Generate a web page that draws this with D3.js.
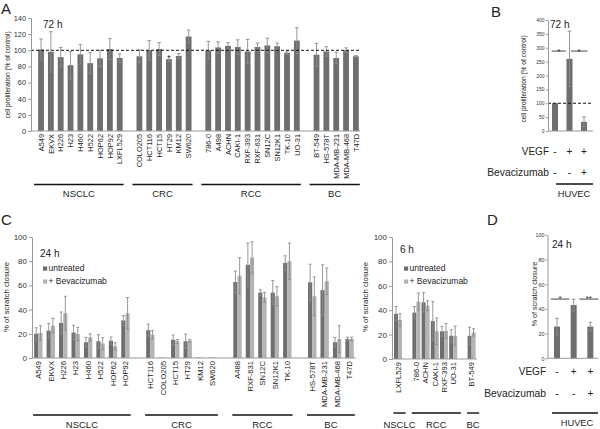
<!DOCTYPE html>
<html>
<head>
<meta charset="utf-8">
<script src="https://cdn.jsdelivr.net/npm/d3@7/dist/d3.min.js"></script>
<style>
body { margin: 0; background: #fff; }
text { font-family: "Liberation Sans", Arial, sans-serif; fill: #222; }
</style>
</head>
<body>
<div class="fig"></div>
<script>
var width = 600, height = 429;

// ---- panel A : proliferation, 72 h
var aGroups = ["NSCLC", "CRC", "RCC", "BC"];
var aLines = [
  ["A549", "EKVX", "H226", "H23", "H460", "H522", "HOP62", "HOP92", "LXFL529"],
  ["COLO205", "HCT116", "HCT15", "HT29", "KM12", "SW620"],
  ["786-0", "A498", "ACHN", "CAKI-1", "RXF-393", "RXF-631", "SN12C", "SN12K1", "TK-10", "UO-31"],
  ["BT-549", "HS-578T", "MDA-MB-231", "MDA-MB-468", "T47D"]
];
var aValues = [101, 98, 91.5, 81.5, 95, 84, 90, 101.5, 90.5,
               92.5, 100, 101.5, 89, 93, 117,
               100, 103.5, 105.5, 104, 98.5, 104, 106, 105, 97, 112,
               94.5, 98.5, 90.5, 100, 92.5];
var aErrors = [13, 25, 12, 17, 12, 13, 10, 13, 5,
               8, 12, 8, 3, 3, 8,
               11, 7, 4, 9, 15, 5, 9, 4, 2, 16,
               14, 6, 7, 3, 1];
var aSignif = ["HT29"];
var aTicks = [0, 20, 40, 60, 80, 100, 120, 140];

// ---- panel B : HUVEC proliferation, 72 h
var bVegf = ["-", "+", "+"];
var bBeva = ["-", "-", "+"];
var bValues = [100, 260, 33];
var bErrors = [0, 100, 18];
var bSig = [{from: 0, to: 1, label: "*", level: 288}, {from: 1, to: 2, label: "*", level: 288}];
var bTicks = [0, 50, 100, 150, 200, 250, 300, 350, 400];

// ---- panel C : scratch closure, 24 h
var cGroups = ["NSCLC", "CRC", "RCC", "BC"];
var cLines = [
  ["A549", "EKVX", "H226", "H23", "H460", "H522", "HOP62", "HOP92"],
  ["HCT116", "COLO205", "HCT15", "HT29", "KM12", "SW620"],
  ["A488", "RXF-631", "SN12C", "SN12K1", "TK-10"],
  ["HS-578T", "MDA-MB-231", "MDA-MB-468", "T47D"]
];
var cUntreated    = [20, 22.6, 29, 21, 13, 13.8, 14.3, 31,  23, 0.3, 15, 13.8, 0.3, 0.3,  62.8, 77, 54, 54, 78.5,  62.5, 56, 13, 15.7];
var cUntreatedErr = [5, 6, 9, 6, 4, 5.5, 3, 4,             5, 0, 4, 6, 0, 0,               9, 18, 2.5, 10, 6,      15, 21, 4, 1.5];
var cBeva         = [20.7, 26.7, 37, 19.8, 17, 11.8, 9.6, 37,  19.3, 0.3, 13.8, 14.3, 0.3, 0.3,  68, 83, 50, 51, 80,  51, 63.4, 15.7, 15.7];
var cBevaErr      = [6, 6, 14, 5.5, 3, 5, 3, 13,               3.5, 0, 1.5, 1, 0, 0,              15, 13, 4, 8, 15,   16, 11, 11, 1.5];
var cTicks = [0, 20, 40, 60, 80, 100];

// ---- panel C, right : scratch closure, 6 h
var c6Groups = ["NSCLC", "RCC", "BC"];
var c6Lines = [["LXFL529"], ["786-0", "ACHN", "CAKI-1", "RXF-393", "UO-31"], ["BT-549"]];
var c6Untreated    = [37, 38, 46.4, 31, 22.7, 19, 19];
var c6UntreatedErr = [6, 5, 8, 16, 4, 5, 7];
var c6Beva         = [32, 47, 43.7, 22.7, 23, 19, 21.8];
var c6BevaErr      = [5, 7, 4, 11, 6, 8, 3];

// ---- panel D : HUVEC scratch closure, 24 h
var dVegf = ["-", "+", "+"];
var dBeva = ["-", "-", "+"];
var dValues = [25.7, 43.2, 25.7];
var dErrors = [6.7, 4.6, 3.5];
var dSig = [{from: 0, to: 1, label: "*", level: 48}, {from: 1, to: 2, label: "**", level: 48}];

var legendNames = ["untreated", "+ Bevacizumab"];

var barDark = "#6e6e6e", barLight = "#b4b4b4", errCol = "#8c8c8c", axisCol = "#999";

var svg = d3.select(".fig").append("svg")
  .attr("width", width)
  .attr("height", height);

svg.append("rect").attr("width", "100%").attr("height", "100%").attr("fill", "#fff");

// band scale with one empty slot between groups
function slotScale(lines, x0, x1) {
  var keys = [];
  lines.forEach(function (ls, i) {
    if (i > 0) keys.push("_gap" + i);
    ls.forEach(function (d) { keys.push(d); });
  });
  return d3.scaleBand().domain(keys).range([x0, x1]);
}

function yAxis(g, y, ticks, x, fs, size, pad) {
  var ax = g.append("g")
    .attr("transform", "translate(" + x + ",0)")
    .call(d3.axisLeft(y).tickValues(ticks).tickSize(size || 3).tickSizeOuter(0).tickPadding(pad || 2));
  ax.select(".domain").attr("stroke", axisCol);
  ax.selectAll(".tick line").attr("stroke", axisCol);
  ax.selectAll(".tick text").attr("font-size", fs).style("fill", "#333")
    .attr("font-family", "'Liberation Sans', Arial, sans-serif");
}

function baseline(g, y, x0, x1) {
  g.append("line").attr("x1", x0).attr("x2", x1)
    .attr("y1", y(0)).attr("y2", y(0))
    .attr("stroke", axisCol);
}

function yLabel(g, text, x, cy, fs) {
  g.append("text")
    .attr("transform", "translate(" + x + "," + cy + ") rotate(-90)")
    .attr("text-anchor", "middle")
    .attr("font-size", fs)
    .text(text);
}

function plainText(g, text, x, y, fs, anchor) {
  g.append("text").attr("x", x).attr("y", y)
    .attr("font-size", fs)
    .attr("text-anchor", anchor || "start")
    .text(text);
}

function rotLabels(g, names, xs, cx, y0, fs) {
  g.selectAll(null).data(names).enter().append("text")
    .attr("transform", function (d) { return "translate(" + (cx(d) + fs * 0.36) + "," + (y0 + 3) + ") rotate(-90)"; })
    .attr("text-anchor", "end")
    .attr("font-size", fs)
    .text(function (d) { return d; });
}

function errBars(g, data, cx, y, cap) {
  var e = g.selectAll(null).data(data.filter(function (d) { return d.err > 0; })).enter().append("g")
    .attr("stroke", errCol).attr("stroke-width", 0.9);
  e.append("line")
    .attr("x1", cx).attr("x2", cx)
    .attr("y1", function (d) { return y(d.v + d.err); })
    .attr("y2", function (d) { return y(Math.max(0, d.v - d.err)); });
  e.append("line")
    .attr("x1", function (d) { return cx(d) - cap; }).attr("x2", function (d) { return cx(d) + cap; })
    .attr("y1", function (d) { return y(d.v + d.err); })
    .attr("y2", function (d) { return y(d.v + d.err); });
  e.append("line")
    .attr("x1", function (d) { return cx(d) - cap; }).attr("x2", function (d) { return cx(d) + cap; })
    .attr("y1", function (d) { return y(Math.max(0, d.v - d.err)); })
    .attr("y2", function (d) { return y(Math.max(0, d.v - d.err)); });
}

function groupLines(g, groups, lines, xs, lineY, textY, pad0, pad1, fs) {
  groups.forEach(function (name, i) {
    var ls = lines[i];
    var a = xs(ls[0]) + pad0, b = xs(ls[ls.length - 1]) + xs.bandwidth() + pad1;
    g.append("line").attr("x1", a).attr("x2", b)
      .attr("y1", lineY).attr("y2", lineY)
      .attr("stroke", "#111").attr("stroke-width", 1.4);
    plainText(g, name, (a + b) / 2, textY, fs, "middle");
  });
}

function flat(lines) { return [].concat.apply([], lines); }

// ================= A =================
(function () {
  var g = svg.append("g");
  var names = flat(aLines);
  var xs = slotScale(aLines, 36.1, 360.8);
  var y = d3.scaleLinear().domain([0, 140]).range([131, 18]);
  var cx = function (d) { return xs(d.name || d) + xs.bandwidth() / 2; };
  var data = names.map(function (n, i) { return {name: n, v: aValues[i], err: aErrors[i]}; });

  g.selectAll(null).data(data).enter().append("rect")
    .attr("x", function (d) { return cx(d) - 2.9; })
    .attr("width", 5.8)
    .attr("y", function (d) { return y(d.v); })
    .attr("height", function (d) { return y(0) - y(d.v); })
    .attr("fill", barDark);
  errBars(g, data, cx, y, 1.8);

  g.append("line").attr("x1", 31).attr("x2", 360)
    .attr("y1", y(100)).attr("y2", y(100))
    .attr("stroke", "#111").attr("stroke-dasharray", "3,2");

  g.selectAll(null).data(data.filter(function (d) { return aSignif.indexOf(d.name) >= 0; })).enter()
    .append("text")
    .attr("x", cx).attr("y", function (d) { return y(d.v + d.err) + 3; })
    .attr("text-anchor", "middle").attr("font-size", 7)
    .text("*");

  baseline(g, y, 31, 360);
  yAxis(g, y, aTicks, 31, 7.4);
  yLabel(g, "cell proliferation (% of control)", 10, 75, 6.6);
  rotLabels(g, names, xs, function (d) { return cx(d); }, y(0), 7.4);
  groupLines(g, aGroups, aLines, xs, 184.5, 197, -2, -1, 9.5);
  plainText(g, "72 h", 43, 28, 10);
  plainText(g, "A", 1, 13.5, 15);
})();

// ================= B =================
(function () {
  var g = svg.append("g");
  var xs = d3.scaleBand().domain([0, 1, 2]).range([547.75, 591.25]);
  var y = d3.scaleLinear().domain([0, 400]).range([131, 20]);
  var cx = function (d) { return xs(d.i) + xs.bandwidth() / 2; };
  var data = bValues.map(function (v, i) { return {i: i, v: v, err: bErrors[i]}; });

  g.selectAll(null).data(data).enter().append("rect")
    .attr("x", function (d) { return cx(d) - 3; })
    .attr("width", 6)
    .attr("y", function (d) { return y(d.v); })
    .attr("height", function (d) { return y(0) - y(d.v); })
    .attr("fill", barDark);
  errBars(g, data, cx, y, 1.8);

  g.append("line").attr("x1", 548).attr("x2", 593)
    .attr("y1", y(100)).attr("y2", y(100))
    .attr("stroke", "#111").attr("stroke-dasharray", "3,2");

  bSig.forEach(function (s) {
    var c0 = cx({i: s.from}), c1 = cx({i: s.to});
    var a = s.from === 0 ? c0 - 3.3 : c0 + 1.5;
    var b = s.to === 2 ? c1 + 3.3 : c1 - 3.8;
    g.append("line").attr("x1", a).attr("x2", b)
      .attr("y1", y(s.level)).attr("y2", y(s.level))
      .attr("stroke", "#8a8a8a").attr("stroke-width", 1.6);
    plainText(g, s.label, (a + b) / 2, y(s.level) + 3, 8, "middle");
  });

  baseline(g, y, 548, 593);
  yAxis(g, y, bTicks, 548, 5, 2, 1.5);
  yLabel(g, "cell proliferation (% of control)", 526, 79, 6.6);

  plainText(g, "VEGF", 549, 155, 10, "end");
  plainText(g, "Bevacizumab", 549, 176, 10.3, "end");
  bVegf.forEach(function (s, i) { plainText(g, s, cx({i: i}), 155, 10, "middle"); });
  bBeva.forEach(function (s, i) { plainText(g, s, cx({i: i}), 176, 10, "middle"); });

  g.append("line").attr("x1", 556).attr("x2", 593)
    .attr("y1", 184).attr("y2", 184)
    .attr("stroke", "#111").attr("stroke-width", 1.4);
  plainText(g, "HUVEC", 574, 197, 9.3, "middle");
  plainText(g, "72 h", 550, 28, 10);
  plainText(g, "B", 491, 17, 15);
})();

// paired bars (untreated / + Bevacizumab)
function pairedPanel(g, lines, groups, vals, errs, vals2, errs2, x0, x1, y, lineY, textY, pad0, pad1, bw) {
  var names = flat(lines);
  var xs = slotScale(lines, x0, x1);
  var mid = function (n) { return xs(n) + xs.bandwidth() / 2; };
  var d1 = names.map(function (n, i) { return {name: n, v: vals[i], err: errs[i]}; });
  var d2 = names.map(function (n, i) { return {name: n, v: vals2[i], err: errs2[i]}; });
  var cx1 = function (d) { return mid(d.name) - bw / 2; };
  var cx2 = function (d) { return mid(d.name) + bw / 2; };

  [[d1, cx1, barDark], [d2, cx2, barLight]].forEach(function (s) {
    g.selectAll(null).data(s[0]).enter().append("rect")
      .attr("x", function (d) { return s[1](d) - bw / 2; })
      .attr("width", bw)
      .attr("y", function (d) { return y(d.v); })
      .attr("height", function (d) { return y(0) - y(d.v); })
      .attr("fill", s[2]);
  });
  errBars(g, d1, cx1, y, 1.5);
  errBars(g, d2, cx2, y, 1.5);

  rotLabels(g, names, xs, mid, y(0), 7.6);
  groupLines(g, groups, lines, xs, lineY, textY, pad0, pad1, 9.5);
}

function legend(g, x, y0) {
  [barDark, barLight].forEach(function (c, i) {
    g.append("rect").attr("x", x).attr("y", y0 + i * 13 - 4.5)
      .attr("width", 4.2).attr("height", 4.2).attr("fill", c);
    plainText(g, legendNames[i], x + 5.5, y0 + i * 13, 8.5);
  });
}

// ================= C (24 h) =================
(function () {
  var g = svg.append("g");
  var y = d3.scaleLinear().domain([0, 100]).range([358, 237]);
  pairedPanel(g, cLines, cGroups, cUntreated, cUntreatedErr, cBeva, cBevaErr,
              32.1, 355.8, y, 415, 428, 1, -1, 4.2);
  baseline(g, y, 32, 355.8);
  yAxis(g, y, cTicks, 32, 8);
  yLabel(g, "% of scratch closure", 9, 297, 7.8);
  plainText(g, "24 h", 40, 256.5, 10);
  legend(g, 43, 271);
  plainText(g, "C", 1, 225, 15);
})();

// ================= C (6 h) =================
(function () {
  var g = svg.append("g");
  var y = d3.scaleLinear().domain([0, 100]).range([359, 237]);
  pairedPanel(g, c6Lines, c6Groups, c6Untreated, c6UntreatedErr, c6Beva, c6BevaErr,
              393.4, 476.2, y, 413, 428, 0, 3, 4);
  baseline(g, y, 392, 477);
  yAxis(g, y, cTicks, 392, 8);
  yLabel(g, "% of scratch closure", 368, 297, 7.8);
  plainText(g, "6 h", 400, 253, 10);
  legend(g, 404, 271);
})();

// ================= D =================
(function () {
  var g = svg.append("g");
  var xs = d3.scaleBand().domain([0, 1, 2]).range([548.67, 598.67]);
  var y = d3.scaleLinear().domain([0, 100]).range([358.3, 235]);
  var cx = function (d) { return xs(d.i) + xs.bandwidth() / 2; };
  var data = dValues.map(function (v, i) { return {i: i, v: v, err: dErrors[i]}; });

  g.selectAll(null).data(data).enter().append("rect")
    .attr("x", function (d) { return cx(d) - 3; })
    .attr("width", 6)
    .attr("y", function (d) { return y(d.v); })
    .attr("height", function (d) { return y(0) - y(d.v); })
    .attr("fill", barDark);
  errBars(g, data, cx, y, 1.8);

  dSig.forEach(function (s) {
    var c0 = cx({i: s.from}), c1 = cx({i: s.to});
    var a = s.from === 0 ? c0 - 6.3 : c0 + 5.6;
    var b = s.to === 2 ? c1 + 8 : c1 - 4.4;
    g.append("line").attr("x1", a).attr("x2", b)
      .attr("y1", y(s.level)).attr("y2", y(s.level))
      .attr("stroke", "#8a8a8a").attr("stroke-width", 1.6);
    plainText(g, s.label, (a + b) / 2, y(s.level) + 2, 8, "middle");
  });

  baseline(g, y, 547.5, 598);
  yAxis(g, y, cTicks, 547.5, 5.4, 2, 1);
  yLabel(g, "% of scratch closure", 536.5, 294, 7.2);

  plainText(g, "VEGF", 546, 375, 10, "end");
  plainText(g, "Bevacizumab", 546, 397, 10.3, "end");
  dVegf.forEach(function (s, i) { plainText(g, s, cx({i: i}), 375, 10, "middle"); });
  dBeva.forEach(function (s, i) { plainText(g, s, cx({i: i}), 397, 10, "middle"); });

  g.append("line").attr("x1", 552).attr("x2", 598)
    .attr("y1", 413).attr("y2", 413)
    .attr("stroke", "#111").attr("stroke-width", 1.4);
  plainText(g, "HUVEC", 577, 426, 9.3, "middle");
  plainText(g, "24 h", 552, 248, 10);
  plainText(g, "D", 487, 225, 15);
})();
</script>
</body>
</html>
